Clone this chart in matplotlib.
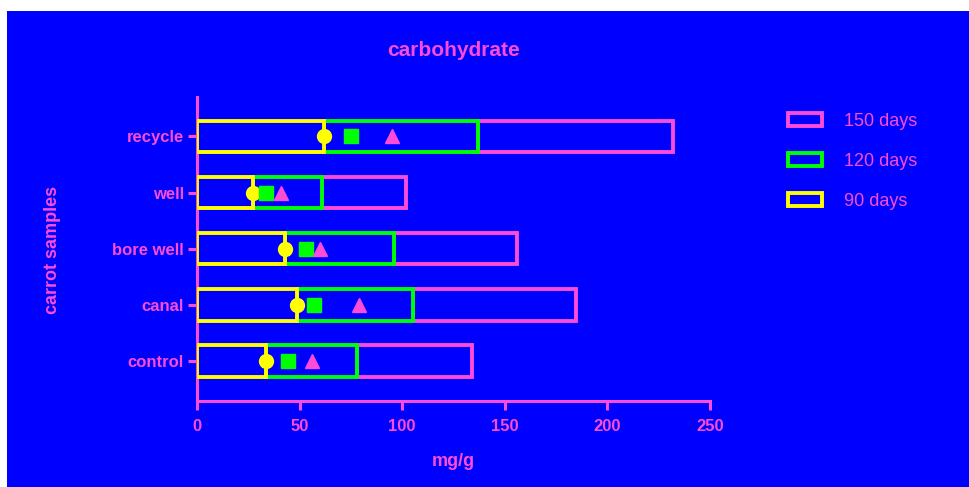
import matplotlib
matplotlib.use('Agg')
import matplotlib.pyplot as plt
from matplotlib.patches import Patch, Rectangle

plt.rcParams['font.family'] = ['Liberation Sans', 'DejaVu Sans']

samples = ['control', 'canal', 'bore well', 'well', 'recycle']
days_90 = [33.5, 48.5, 43, 27.5, 62]
days_120 = [44.5, 57, 53, 33.5, 75]
days_150 = [56, 79, 60, 41, 95]
series_labels = ['150 days', '120 days', '90 days']

blue = '#0000FF'
pink = '#FA4CD6'
green = '#00FF00'
yellow = '#FFFF00'

fig = plt.figure(figsize=(9.69, 4.87), dpi=100, facecolor='white')
# blue panel (leaves thin white strip on left/top like the original)
fig.patches.append(Rectangle((7 / 969, 0), 1, 1 - 11 / 487, transform=fig.transFigure,
                             facecolor=blue, edgecolor='none', zorder=-10))

ax = fig.add_axes([197 / 969, 1 - 400.5 / 487, 513 / 969, 303.5 / 487])
ax.set_facecolor(blue)

y = list(range(len(samples)))
left_120 = days_90
left_150 = [a + b for a, b in zip(days_90, days_120)]
h = 0.56
lw = 2.8

ax.barh(y, days_150, left=left_150, height=h, facecolor=blue, edgecolor=pink, linewidth=lw, zorder=2)
ax.barh(y, days_120, left=left_120, height=h, facecolor=blue, edgecolor=green, linewidth=lw, zorder=3)
ax.barh(y, days_90, height=h, facecolor=blue, edgecolor=yellow, linewidth=lw, zorder=4)

ax.plot(days_90, y, 'o', color=yellow, markersize=10, zorder=5)
ax.plot(days_120, y, 's', color=green, markersize=10, zorder=5)
ax.plot(days_150, y, '^', color=pink, markersize=10, zorder=5)

ax.set_xlim(0, 250)
ax.set_ylim(-0.7, 4.7)
ax.set_xticks([0, 50, 100, 150, 200, 250])
ax.set_yticks(y)
ax.set_yticklabels(samples)

for s in ['top', 'right']:
    ax.spines[s].set_visible(False)
for s in ['left', 'bottom']:
    ax.spines[s].set_color(pink)
    ax.spines[s].set_linewidth(2.2)
ax.tick_params(axis='both', colors=pink, width=2.2, length=6.5)
ax.tick_params(axis='x', pad=7)
ax.tick_params(axis='y', pad=3)
for lab in ax.get_xticklabels() + ax.get_yticklabels():
    lab.set_fontweight('bold')
    lab.set_fontsize(12)
    lab.set_color(pink)

ax.set_xlabel('mg/g', fontsize=13, fontweight='bold', color=pink)
ax.xaxis.set_label_coords(0.5, -0.173)
ax.set_ylabel('carrot samples', fontsize=13, fontweight='bold', color=pink)
ax.yaxis.set_label_coords(-0.265, 0.496)

fig.text(453 / 969, 1 - 51 / 487, 'carbohydrate', ha='center', va='center',
         fontsize=15, fontweight='bold', color=pink)

handles = [Patch(facecolor=blue, edgecolor=c, linewidth=lw) for c in [pink, green, yellow]]
leg = fig.legend(handles, series_labels, loc='upper left', bbox_to_anchor=(788 / 969, 1 - 113 / 487),
                 frameon=False, fontsize=13, handlelength=1.9, handleheight=0.75,
                 handletextpad=1.2, labelspacing=1.27, borderpad=0, borderaxespad=0)
for t in leg.get_texts():
    t.set_color(pink)

fig.savefig('out.png', dpi=100, facecolor=fig.get_facecolor())
